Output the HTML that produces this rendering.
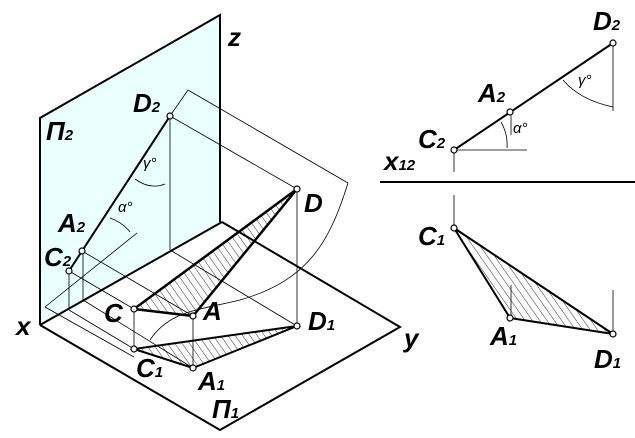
<!DOCTYPE html>
<html><head><meta charset="utf-8"><style>
html,body{margin:0;padding:0;background:#fff;}
svg{display:block}
text{font-family:"Liberation Sans",sans-serif;font-style:italic;fill:#000}
</style></head><body>
<svg width="635" height="438" viewBox="0 0 635 438" xmlns="http://www.w3.org/2000/svg">
<defs>
<pattern id="h" patternUnits="userSpaceOnUse" width="6" height="6" patternTransform="rotate(-35)">
<line x1="0" y1="0" x2="0" y2="6" stroke="#000" stroke-width="0.8"/>
</pattern>
</defs>
<polygon points="40,118 220,15 220,222 40,325" fill="#eaffff"/>
<polyline points="40,325 40,118 220,15 220,222" fill="none" stroke="#000" stroke-width="2"/>
<line x1="40" y1="325" x2="222" y2="222" stroke="#000" stroke-width="2"/>
<polyline points="222,222 400,327 220,430 40,325" fill="none" stroke="#000" stroke-width="2"/>
<g stroke="#000" stroke-width="0.8" fill="none">
<line x1="170" y1="116" x2="170" y2="250"/>
<line x1="83" y1="251" x2="83" y2="300"/>
<line x1="69" y1="271" x2="69" y2="310"/>
<line x1="170" y1="116" x2="297" y2="189"/>
<line x1="170" y1="250" x2="297" y2="326"/>
<line x1="83" y1="300" x2="193" y2="368"/>
<line x1="69" y1="310" x2="134" y2="349"/>
<line x1="69" y1="271" x2="134" y2="309"/>
<line x1="82" y1="251" x2="193" y2="316"/>
<line x1="137" y1="233" x2="45" y2="307"/>
<line x1="45" y1="307" x2="134" y2="357"/>
<line x1="297" y1="189" x2="297" y2="326"/>
<line x1="134" y1="309" x2="134" y2="349"/>
<line x1="193" y1="316" x2="193" y2="368"/>
<line x1="170" y1="116" x2="188" y2="90"/>
<line x1="188" y1="90" x2="348" y2="183"/>
<path d="M348,183 C330,240 310,280 240,300 C200,310 170,310 150,340"/>
<path d="M135,179 Q150,190 165,184"/>
<path d="M110,218 Q122,222 130,232"/>
</g>
<line x1="170" y1="116" x2="69" y2="271" stroke="#000" stroke-width="2"/>
<polygon points="134,309 193,316 297,189" fill="url(#h)" stroke="#000" stroke-width="2.5" stroke-linejoin="round"/>
<polygon points="134,349 193,368 297,326" fill="url(#h)" stroke="#000" stroke-width="2" stroke-linejoin="round"/>
<g fill="#fff" stroke="#000" stroke-width="1.2">
<circle cx="170" cy="116" r="3"/><circle cx="82" cy="251" r="3"/><circle cx="69" cy="271" r="3"/>
<circle cx="297" cy="189" r="3"/><circle cx="297" cy="326" r="3"/><circle cx="134" cy="309" r="3"/>
<circle cx="193" cy="316" r="3"/><circle cx="134" cy="349" r="3"/><circle cx="193" cy="368" r="3"/>
</g>
<g font-size="26" font-weight="bold">
<text x="228" y="46">z</text>
<text x="16" y="335">x</text>
<text x="404" y="347">y</text>
<text x="46" y="140">П<tspan font-size="15">2</tspan></text>
<text x="212" y="418">П<tspan font-size="15">1</tspan></text>
<text x="133" y="112">D<tspan font-size="15">2</tspan></text>
<text x="58" y="232">A<tspan font-size="15">2</tspan></text>
<text x="44" y="266">C<tspan font-size="15">2</tspan></text>
<text x="304" y="212">D</text>
<text x="104" y="322">C</text>
<text x="203" y="320">A</text>
<text x="308" y="330">D<tspan font-size="15">1</tspan></text>
<text x="136" y="377">C<tspan font-size="15">1</tspan></text>
<text x="198" y="390">A<tspan font-size="15">1</tspan></text>
</g>
<text x="143" y="168" font-size="15">γ°</text>
<text x="118" y="212" font-size="15">α°</text>
<g stroke="#000" stroke-width="0.8" fill="none">
<line x1="454" y1="150" x2="527" y2="150"/>
<line x1="454" y1="150" x2="454" y2="172"/>
<line x1="613" y1="43" x2="613" y2="111"/>
<line x1="511" y1="112" x2="511" y2="135"/>
<line x1="454" y1="195" x2="454" y2="228"/>
<line x1="511" y1="285" x2="511" y2="318"/>
<line x1="613" y1="290" x2="613" y2="334"/>
<path d="M563,80 Q580,100 613,107"/>
<path d="M501,122 Q508,134 507,148"/>
</g>
<line x1="380" y1="182" x2="635" y2="182" stroke="#000" stroke-width="2"/>
<line x1="454" y1="150" x2="613" y2="43" stroke="#000" stroke-width="2"/>
<polygon points="454,228 510,318 613,334" fill="url(#h)" stroke="#000" stroke-width="2" stroke-linejoin="round"/>
<g fill="#fff" stroke="#000" stroke-width="1.2">
<circle cx="613" cy="43" r="3"/><circle cx="510" cy="112" r="3"/><circle cx="454" cy="150" r="3"/>
<circle cx="454" cy="228" r="3"/><circle cx="510" cy="318" r="3"/><circle cx="613" cy="334" r="3"/>
</g>
<g font-size="26" font-weight="bold">
<text x="593" y="30">D<tspan font-size="15">2</tspan></text>
<text x="478" y="102">A<tspan font-size="15">2</tspan></text>
<text x="418" y="148">C<tspan font-size="15">2</tspan></text>
<text x="384" y="170">x<tspan font-size="15">12</tspan></text>
<text x="418" y="245">C<tspan font-size="15">1</tspan></text>
<text x="490" y="345">A<tspan font-size="15">1</tspan></text>
<text x="594" y="368">D<tspan font-size="15">1</tspan></text>
</g>
<text x="578" y="85" font-size="15">γ°</text>
<text x="513" y="133" font-size="15">α°</text>
</svg>
</body></html>
